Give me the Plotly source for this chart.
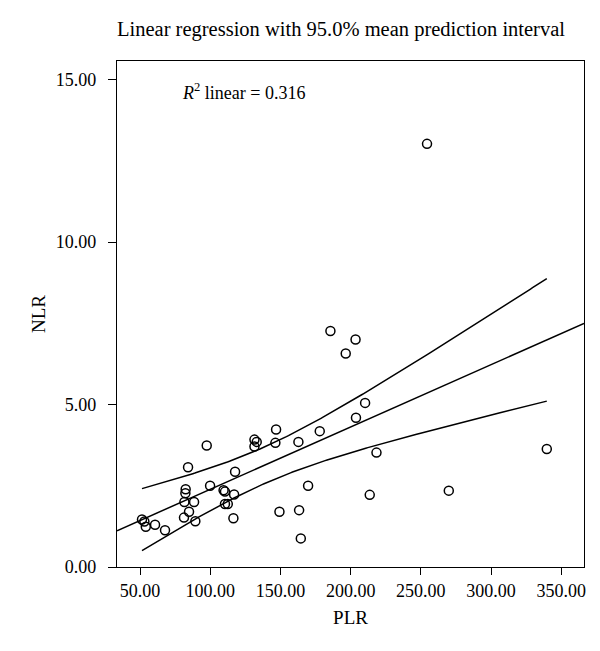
import numpy as np
import plotly.graph_objects as go

# Data
plr = [51.4, 53.1, 54.1, 60.7, 67.8, 84.2, 82.5, 82.3, 81.6, 88.5, 84.9, 81.3, 89.4,
       97.5, 99.9, 109.5, 110.5, 110.5, 112.5, 117.0, 117.7, 116.5, 131.5, 133.1, 131.5,
       146.9, 146.4, 162.8, 178.0, 169.7, 149.3, 163.3, 164.5, 185.6, 196.5, 203.5,
       203.8, 210.3, 218.4, 213.6, 269.9, 339.7, 254.4]
nlr = [1.46, 1.40, 1.24, 1.30, 1.13, 3.07, 2.39, 2.27, 2.00, 2.00, 1.70, 1.52, 1.41,
       3.74, 2.50, 2.36, 2.32, 1.94, 1.94, 2.23, 2.93, 1.50, 3.92, 3.85, 3.71,
       4.23, 3.82, 3.85, 4.18, 2.50, 1.70, 1.75, 0.88, 7.26, 6.57, 7.00,
       4.59, 5.05, 3.52, 2.22, 2.35, 3.63, 13.02]

x_ticks = [50, 100, 150, 200, 250, 300, 350]
y_ticks = [0, 5, 10, 15]
x_range = [33.6, 366.2]
y_range = [0, 15.57]

x = np.array(plr)
y = np.array(nlr)
n = len(x)
b1, b0 = np.polyfit(x, y, 1)
yhat = b0 + b1 * x
s = np.sqrt(np.sum((y - yhat) ** 2) / (n - 2))
sxx = np.sum((x - x.mean()) ** 2)
t = 2.0195  # t(0.975, df≈41)
xc = np.linspace(x.min(), x.max(), 200)
yc = b0 + b1 * xc
hw = t * s * np.sqrt(1.0 / n + (xc - x.mean()) ** 2 / sxx)
xf = np.array(x_range)
yf = b0 + b1 * xf

serif = "Liberation Serif"
fig = go.Figure()
fig.add_trace(go.Scatter(x=xf, y=yf, mode="lines", line=dict(color="black", width=1.5), hoverinfo="skip"))
fig.add_trace(go.Scatter(x=xc, y=yc + hw, mode="lines", line=dict(color="black", width=1.5), hoverinfo="skip"))
fig.add_trace(go.Scatter(x=xc, y=yc - hw, mode="lines", line=dict(color="black", width=1.5), hoverinfo="skip"))
fig.add_trace(go.Scatter(x=plr, y=nlr, mode="markers",
                         marker=dict(symbol="circle-open", size=9, color="black", line=dict(width=1.5))))

fig.update_layout(
    width=600, height=651,
    margin=dict(l=109, r=24, t=53, b=92),
    paper_bgcolor="white", plot_bgcolor="white",
    showlegend=False,
    font=dict(family=serif, color="black", size=18),
    title=dict(text="Linear regression with 95.0% mean prediction interval",
               x=0.555, xanchor="center", xref="container", y=1, yref="container", yanchor="top",
               pad=dict(t=14), font=dict(family=serif, size=20.5, color="black")),
    annotations=[dict(text="<i>R</i><sup>2</sup> linear = 0.316", x=0.135, y=0.94,
                      xref="paper", yref="paper", xanchor="left", yanchor="middle",
                      showarrow=False, font=dict(family=serif, size=18, color="black"))],
)
fig.update_xaxes(range=x_range, tickvals=x_ticks, ticktext=[f"{v:.2f}" for v in x_ticks],
                 ticks="outside", ticklen=7, tickwidth=1.2, tickcolor="black",
                 showline=True, linecolor="black", linewidth=1.3, mirror=True,
                 showgrid=False, zeroline=False,
                 title=dict(text="PLR", font=dict(family=serif, size=19), standoff=10),
                 tickfont=dict(family=serif, size=18))
fig.update_yaxes(range=y_range, tickvals=y_ticks, ticktext=[f"{v:.2f}" for v in y_ticks],
                 ticks="outside", ticklen=8, tickwidth=1.2, tickcolor="black",
                 showline=True, linecolor="black", linewidth=1.3, mirror=True,
                 showgrid=False, zeroline=False, ticklabelstandoff=8,
                 title=dict(text="NLR", font=dict(family=serif, size=19), standoff=5),
                 tickfont=dict(family=serif, size=18))
fig.write_html("out.html")
